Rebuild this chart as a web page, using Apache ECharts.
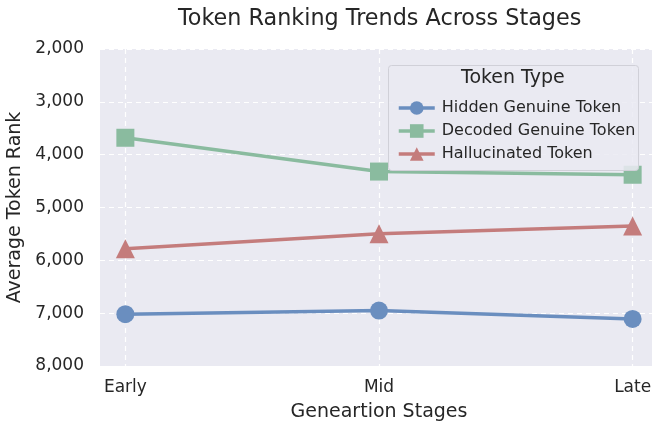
<!DOCTYPE html>
<html><head><meta charset="utf-8">
<script src="https://cdn.jsdelivr.net/npm/echarts@6/dist/echarts.min.js"></script>
<style>html,body{margin:0;padding:0;background:#fff}#c{width:652px;height:424px}</style>
</head><body><div id="c"></div>
<script>
const categories = ['Early', 'Mid', 'Late'];
const hiddenGenuine = [7020, 6950, 7110];
const decodedGenuine = [3680, 4320, 4380];
const hallucinated = [5780, 5495, 5350];
const yTicks = [2000, 3000, 4000, 5000, 6000, 7000, 8000];
const seriesNames = ['Hidden Genuine Token', 'Decoded Genuine Token', 'Hallucinated Token'];

const FONT = 'DejaVu Sans';
const colors = ['#6a8ebf', '#8abb9f', '#c47c7c'];
const symbols = ['circle', 'rect', 'triangle'];
const datasets = [hiddenGenuine, decodedGenuine, hallucinated];

const chart = echarts.init(document.getElementById('c'), null, {renderer: 'canvas'});
chart.setOption({
  animation: false,
  backgroundColor: '#ffffff',
  title: {
    text: 'Token Ranking Trends Across Stages',
    left: 173, top: 3,
    textStyle: {fontFamily: FONT, fontSize: 22.3, fontWeight: 'normal', color: '#262626'}
  },
  grid: {left: 100, top: 49, width: 558, height: 317, show: true, backgroundColor: '#eaeaf2', borderWidth: 0,
         containLabel: false, outerBoundsMode: 'none'},
  xAxis: {
    type: 'value', min: -0.1, max: 2.1,
    name: 'Geneartion Stages', nameLocation: 'middle', nameGap: 37,
    nameTextStyle: {fontFamily: FONT, fontSize: 19, color: '#262626'},
    axisLine: {show: false},
    axisTick: {show: false, customValues: [0, 1, 2]},
    axisLabel: {customValues: [0, 1, 2], formatter: v => categories[Math.round(v)], fontFamily: FONT, fontSize: 17, color: '#262626', margin: 13},
    splitLine: {show: true, lineStyle: {color: '#ffffff', type: [5, 4], width: 1.2}}
  },
  yAxis: {
    type: 'value', inverse: true, min: yTicks[0], max: yTicks[yTicks.length - 1], interval: 1000,
    name: 'Average Token Rank', nameLocation: 'middle', nameGap: 70,
    nameTextStyle: {fontFamily: FONT, fontSize: 19, color: '#262626'},
    axisLine: {show: false}, axisTick: {show: false},
    axisLabel: {formatter: v => v.toLocaleString('en-US'), fontFamily: FONT, fontSize: 17, color: '#262626', margin: 16},
    splitLine: {show: true, lineStyle: {color: '#ffffff', type: [5, 4], width: 1.2}}
  },
  legend: {
    orient: 'vertical', left: 392, top: 95, itemGap: 7, itemWidth: 36, itemHeight: 17, z: 20,
    data: seriesNames,
    lineStyle: {width: 3.5},
    textStyle: {fontFamily: FONT, fontSize: 16, color: '#262626', padding: [0, 0, 0, 2]}
  },
  graphic: [
    {type: 'rect', left: 388, top: 65, z: 10, shape: {width: 250, height: 105, r: 3},
     style: {fill: 'rgba(234,234,242,0.85)', stroke: '#d0d0d8', lineWidth: 1}},
    {type: 'text', left: 461, top: 69, z: 11,
     style: {text: 'Token Type', font: '19px "DejaVu Sans"', fill: '#262626'}}
  ],
  series: datasets.map((d, i) => ({
    name: seriesNames[i], type: 'line', z: 3,
    data: d.map((v, j) => [j, v]),
    symbol: symbols[i], symbolSize: i === 2 ? 19 : 18,
    lineStyle: {color: colors[i], width: 3.5},
    itemStyle: {color: colors[i]},
    emphasis: {disabled: true}
  }))
});
</script></body></html>
